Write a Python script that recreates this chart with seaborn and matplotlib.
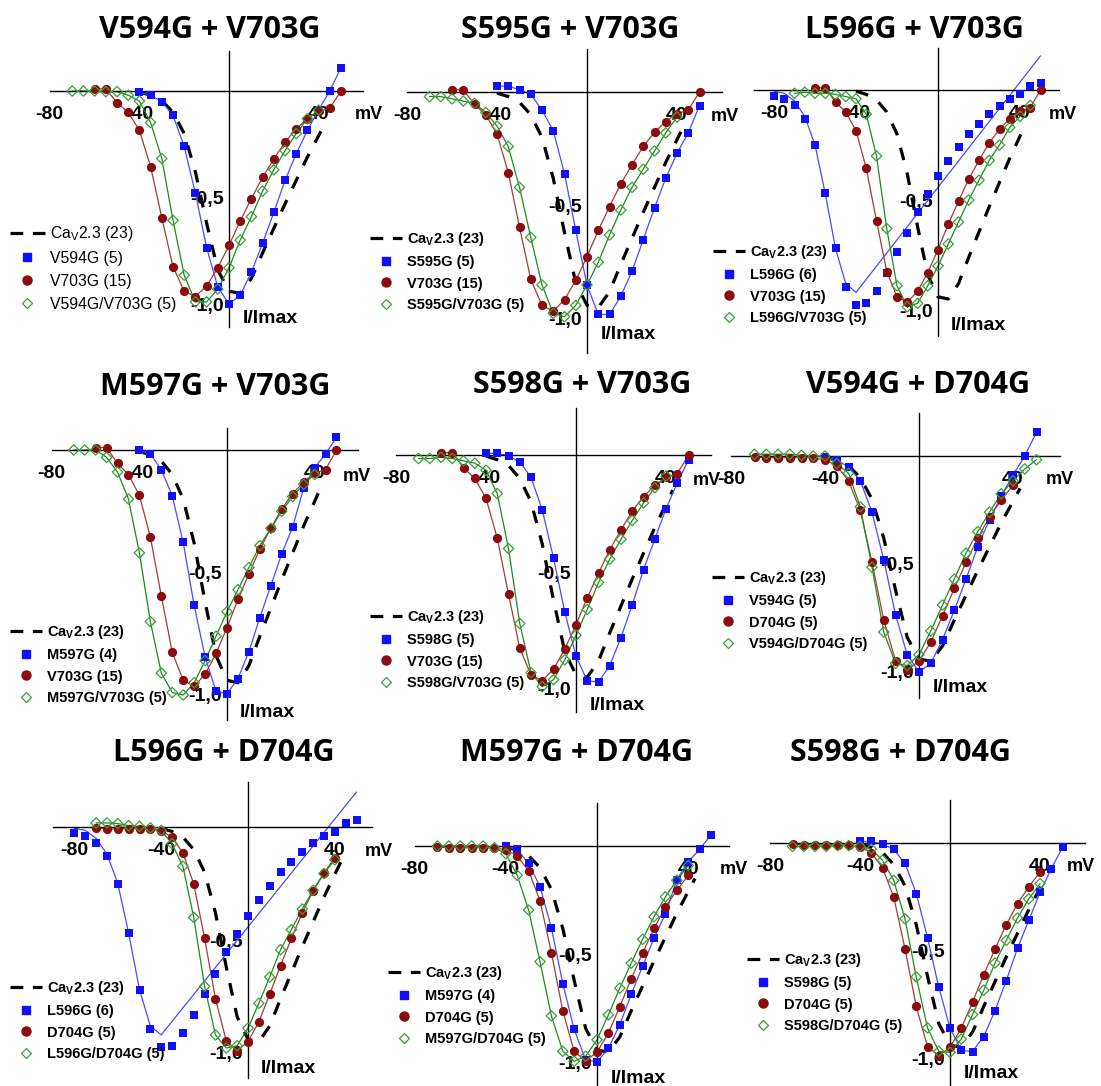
import numpy as np
import matplotlib
matplotlib.use("Agg")
import matplotlib.pyplot as plt
import seaborn as sns
from matplotlib.lines import Line2D

sns.set_theme(style="white")
plt.rcParams["font.family"] = ["Liberation Sans", "DejaVu Sans"]
plt.rcParams["mathtext.default"] = "regular"
plt.rcParams["text.color"] = "black"
plt.rcParams["xtick.color"] = "black"
plt.rcParams["ytick.color"] = "black"

W, H = 1101, 1086
STEP = 5  # mV between test potentials

# ---------------- CaV2.3 wild type (dashed reference curve) ----------------
cav23_v = [-40, -35, -30, -25, -20, -15, -10, -5, 0, 5, 10, 15, 20, 25, 30, 35, 40, 43]
cav23_i = [-0.005, -0.02, -0.045, -0.10, -0.20, -0.38, -0.62, -0.84, -0.94, -0.95,
           -0.88, -0.76, -0.645, -0.53, -0.42, -0.31, -0.21, -0.15]

# ---------------- single mutants (normalised current, 5 mV steps) ----------------
v594g_start = -40
v594g = [-0.005, -0.02, -0.05, -0.115, -0.26, -0.48, -0.735, -0.92, -1.0, -0.96,
         -0.85, -0.715, -0.57, -0.42, -0.295, -0.185, -0.088, 0.0, 0.11]

s595g_start = -40
s595g = [0.026, 0.026, 0.01, -0.01, -0.08, -0.17, -0.36, -0.61, -0.85, -0.98,
         -0.98, -0.90, -0.79, -0.65, -0.51, -0.38, -0.27, -0.18, -0.06]

l596g_start = -80
l596g = [-0.025, -0.04, -0.07, -0.13, -0.25, -0.47, -0.72, -0.895, -0.975, -0.97,
         -0.913, -0.83, -0.738, -0.65, -0.555, -0.472, -0.393, -0.322, -0.26, -0.2,
         -0.153, -0.11, -0.072, -0.04, -0.02, 0.018, 0.033]
# fitted curve for L596G (kinks at the knots)
l596g_fit_v = [-80, -75, -70, -65, -60, -55, -50, -45, -40, 50]
l596g_fit_i = [-0.005, -0.015, -0.05, -0.12, -0.25, -0.47, -0.72, -0.88, -0.92, 0.155]

m597g_start = -40
m597g = [0.0, -0.016, -0.08, -0.187, -0.377, -0.634, -0.845, -0.985, -0.995, -0.933,
         -0.823, -0.684, -0.554, -0.424, -0.314, -0.155, -0.072, -0.016, 0.052]

s598g_start = -40
s598g = [0.007, 0.007, -0.004, -0.03, -0.095, -0.235, -0.44, -0.67, -0.86, -0.965,
         -0.97, -0.90, -0.78, -0.64, -0.49, -0.36, -0.23, -0.12, -0.02]

v703g_start = -60
v703g = [0.01, 0.01, -0.055, -0.10, -0.185, -0.355, -0.595, -0.825, -0.94, -0.965,
         -0.915, -0.83, -0.725, -0.61, -0.505, -0.405, -0.32, -0.24, -0.178, -0.13,
         -0.095, -0.08, 0.0]

d704g_start = -70
d704g = [-0.005, -0.008, -0.008, -0.008, -0.008, -0.01, -0.017, -0.045, -0.115, -0.252,
         -0.492, -0.76, -0.947, -0.99, -0.95, -0.862, -0.74, -0.613, -0.493, -0.38,
         -0.282, -0.204, -0.135]

# ---------------- double mutants (all start at -70 mV) ----------------
double_start = -70
v594g_v703g = [0, 0, 0, -0.003, -0.003, -0.02, -0.047, -0.148, -0.317, -0.607, -0.865,
               -0.99, -0.99, -0.93, -0.83, -0.70, -0.59, -0.47, -0.37, -0.28, -0.20,
               -0.13, -0.09]
s595g_v703g = [-0.02, -0.02, -0.03, -0.04, -0.05, -0.09, -0.15, -0.24, -0.42, -0.64,
               -0.85, -0.975, -0.99, -0.94, -0.85, -0.75, -0.63, -0.52, -0.42, -0.34,
               -0.26, -0.18, -0.11]
l596g_v703g = [-0.015, -0.01, -0.015, -0.015, -0.02, -0.03, -0.04, -0.11, -0.30, -0.63,
               -0.89, -0.985, -0.97, -0.89, -0.80, -0.70, -0.60, -0.50, -0.41, -0.32,
               -0.25, -0.17, -0.12, -0.07]
m597g_v703g = [0, 0, 0, -0.03, -0.09, -0.20, -0.42, -0.70, -0.91, -0.99, -1.0, -0.95,
               -0.86, -0.76, -0.66, -0.57, -0.48, -0.39, -0.32, -0.25, -0.19, -0.14, -0.10]
s598g_v703g = [-0.015, -0.015, -0.01, -0.015, -0.025, -0.035, -0.065, -0.165, -0.40,
               -0.72, -0.93, -0.99, -0.96, -0.875, -0.77, -0.66, -0.545, -0.445, -0.36,
               -0.28, -0.205, -0.14, -0.09]
v594g_d704g = [0.008, 0.008, 0.008, 0.008, 0.003, 0.0, 0.0, -0.035, -0.08, -0.235,
               -0.515, -0.815, -0.96, -0.97, -0.92, -0.81, -0.69, -0.57, -0.45, -0.35,
               -0.26, -0.175, -0.115, -0.06, -0.017]
l596g_d704g = [0.018, 0.018, 0.015, 0.006, 0.003, -0.004, -0.015, -0.074, -0.174, -0.40,
               -0.705, -0.92, -0.978, -0.968, -0.89, -0.78, -0.664, -0.543, -0.454,
               -0.363, -0.28, -0.206, -0.145]
m597g_d704g = [0, 0, 0, 0, 0, -0.008, -0.035, -0.135, -0.295, -0.533, -0.783, -0.946,
               -0.992, -0.969, -0.893, -0.778, -0.655, -0.54, -0.43, -0.326, -0.234,
               -0.158, -0.09]
s598g_d704g = [-0.016, -0.016, -0.016, -0.016, -0.012, -0.012, -0.016, -0.028, -0.08,
               -0.174, -0.353, -0.623, -0.86, -0.969, -0.974, -0.912, -0.798, -0.685,
               -0.558, -0.453, -0.349, -0.26, -0.189]

# ---------------- panel contents ----------------
titles = ["V594G + V703G", "S595G + V703G", "L596G + V703G",
          "M597G + V703G", "S598G + V703G", "V594G + D704G",
          "L596G + D704G", "M597G + D704G", "S598G + D704G"]
single_labels = ["V594G (5)", "S595G (5)", "L596G (6)", "M597G (4)", "S598G (5)",
                 "V594G (5)", "L596G (6)", "M597G (4)", "S598G (5)"]
partner_labels = ["V703G (15)"] * 5 + ["D704G (5)"] * 4
double_labels = ["V594G/V703G (5)", "S595G/V703G (5)", "L596G/V703G (5)",
                 "M597G/V703G (5)", "S598G/V703G (5)", "V594G/D704G (5)",
                 "L596G/D704G (5)", "M597G/D704G (5)", "S598G/D704G (5)"]
single_data = [(v594g_start, v594g), (s595g_start, s595g), (l596g_start, l596g),
               (m597g_start, m597g), (s598g_start, s598g), (v594g_start, v594g),
               (l596g_start, l596g), (m597g_start, m597g), (s598g_start, s598g)]
partner_data = [(v703g_start, v703g)] * 5 + [(d704g_start, d704g)] * 4
double_data = [v594g_v703g, s595g_v703g, l596g_v703g, m597g_v703g, s598g_v703g,
               v594g_d704g, l596g_d704g, m597g_d704g, s598g_d704g]

# ---------------- layout (pixels) ----------------
# origin x (0 mV), px per mV, origin y (I = 0), px per unit current,
# x-axis extent, y-axis extent
geom = [
    (229, 2.24, 91, 213, -80, 60, 0.19, -1.11),
    (587, 2.25, 92, 227, -80, 60, 0.19, -1.15),
    (938, 2.05, 90, 220, -90, 59, 0.19, -1.12),
    (227, 2.19, 450, 245, -80, 60, 0.09, -1.10),
    (576, 2.25, 455, 234, -80, 60, 0.20, -1.10),
    (919, 2.35, 456, 216, -80, 60, 0.20, -1.12),
    (248, 2.17, 827, 226, -90, 57, 0.20, -1.11),
    (597, 2.28, 846, 217, -80, 58, 0.20, -1.15),
    (950, 2.25, 843, 215, -80, 60, 0.20, -1.14),
]
unit_label_x = [56, 55, 54, 53, 52, 54, 54, 54, 52]
title_xy = [(210, 30), (570, 30), (915, 30), (215, 387), (582, 385), (918, 385),
            (224, 753), (577, 753), (901, 753)]
legend_xy = [(10, 224), (370, 230), (713, 243), (10, 623), (370, 608), (712, 569),
             (10, 979), (388, 964), (747, 951)]

BLUE = "#1010ff"
BLUE_LINE = "#4a4aff"
RED = "#8a0c0c"
RED_LINE = "#a53a3a"
GREEN = "#3a9e3a"
GREEN_LINE = "#1f8a1f"

XLIM = (-100, 70)
YLIM = (-1.3, 0.3)

fig = plt.figure(figsize=(W / 100, H / 100), dpi=100)


def volts(start, values):
    return np.arange(start, start + STEP * len(values), STEP)


for k in range(9):
    x0, pxmv, y0, pxu, xlo, xhi, ytop, ybot = geom[k]
    left = x0 + XLIM[0] * pxmv
    right = x0 + XLIM[1] * pxmv
    top = y0 - YLIM[1] * pxu
    bottom = y0 - YLIM[0] * pxu
    ax = fig.add_axes([left / W, 1 - bottom / H, (right - left) / W, (bottom - top) / H])
    ax.set_facecolor("none")
    ax.set_xlim(*XLIM)
    ax.set_ylim(*YLIM)

    # reference curve
    sns.lineplot(x=cav23_v, y=cav23_i, ax=ax, color="black", lw=2.3,
                 linestyle=(0, (4, 4)), zorder=1.5)

    s_start, s_vals = single_data[k]
    p_start, p_vals = partner_data[k]
    d_vals = double_data[k]
    sv, pv, dv = volts(s_start, s_vals), volts(p_start, p_vals), volts(double_start, d_vals)

    # thin connecting / fit lines
    if single_labels[k].startswith("L596G"):
        sns.lineplot(x=l596g_fit_v, y=l596g_fit_i, ax=ax, color=BLUE_LINE, lw=0.9,
                     estimator=None, sort=False, zorder=2)
    else:
        sns.lineplot(x=sv, y=s_vals, ax=ax, color=BLUE_LINE, lw=0.9,
                     estimator=None, sort=False, zorder=2)
    sns.lineplot(x=pv, y=p_vals, ax=ax, color=RED_LINE, lw=0.9,
                 estimator=None, sort=False, zorder=2)
    sns.lineplot(x=dv, y=d_vals, ax=ax, color=GREEN_LINE, lw=0.9,
                 estimator=None, sort=False, zorder=2)

    # data points
    sns.scatterplot(x=sv, y=s_vals, ax=ax, marker="s", s=34, color=BLUE,
                    edgecolor=BLUE, linewidth=0, zorder=3)
    sns.scatterplot(x=pv, y=p_vals, ax=ax, marker="o", s=44, color=RED,
                    edgecolor=RED, linewidth=0, zorder=3)
    sns.scatterplot(x=dv, y=d_vals, ax=ax, marker="D", s=28, color=GREEN,
                    facecolor="none", edgecolor=GREEN, linewidth=0.9, zorder=4)

    # axes crossing at the origin
    for side in ("top", "right"):
        ax.spines[side].set_visible(False)
    for side in ("left", "bottom"):
        ax.spines[side].set_position(("data", 0))
        ax.spines[side].set_color("black")
        ax.spines[side].set_linewidth(1.0)
    ax.spines["bottom"].set_bounds(xlo, xhi)
    ax.spines["left"].set_bounds(ybot, ytop)

    xt = [t for t in range(-80, 61, 20) if t != 0 and xlo <= t <= xhi]
    ax.set_xticks(xt, ["-80" if t == -80 else "-40" if t == -40 else "40" if t == 40 else ""
                       for t in xt], fontsize=14, fontweight="bold")
    ax.set_yticks([-0.25, -0.5, -0.75, -1.0], ["", "-0,5", "", "-1,0"],
                  fontsize=14, fontweight="bold")
    ax.tick_params(axis="x", direction="out", length=4, width=1, pad=6.5)
    ax.tick_params(axis="y", direction="in", length=4, width=1, pad=4)
    ax.grid(False)
    ax.set_xlabel("")
    ax.set_ylabel("")

    ax.text(unit_label_x[k], -0.11, "mV", ha="left", va="center",
            fontsize=13, fontweight="bold")
    ax.text(6, -1.07, "I/Imax", ha="left", va="center", fontsize=14, fontweight="bold")

    # title
    tx, ty = title_xy[k]
    fig.text(tx / W, 1 - ty / H, titles[k], ha="center", va="center",
             fontsize=22, fontweight="bold", family=["Open Sans", "DejaVu Sans"])

    # legend
    handles = [
        Line2D([], [], color="black", lw=2.3, linestyle=(0, (4, 3))),
        Line2D([], [], ls="none", marker="s", ms=6, color=BLUE),
        Line2D([], [], ls="none", marker="o", ms=6.5, color=RED),
        Line2D([], [], ls="none", marker="D", ms=5.5, mfc="none", mec=GREEN, mew=0.9),
    ]
    labels = ["Ca$_V$2.3 (23)", single_labels[k], partner_labels[k], double_labels[k]]
    lx, ly = legend_xy[k]
    if k == 0:
        prop = {"size": 11.3, "weight": "normal"}
    else:
        prop = {"size": 10.5, "weight": "bold"}
    ax.legend(handles, labels, loc="upper left",
              bbox_to_anchor=(lx / W, 1 - ly / H), bbox_transform=fig.transFigure,
              frameon=False, borderpad=0, borderaxespad=0, handlelength=2.2,
              handletextpad=0.35, labelspacing=0.5, prop=prop)

fig.savefig("out.png", dpi=100)
